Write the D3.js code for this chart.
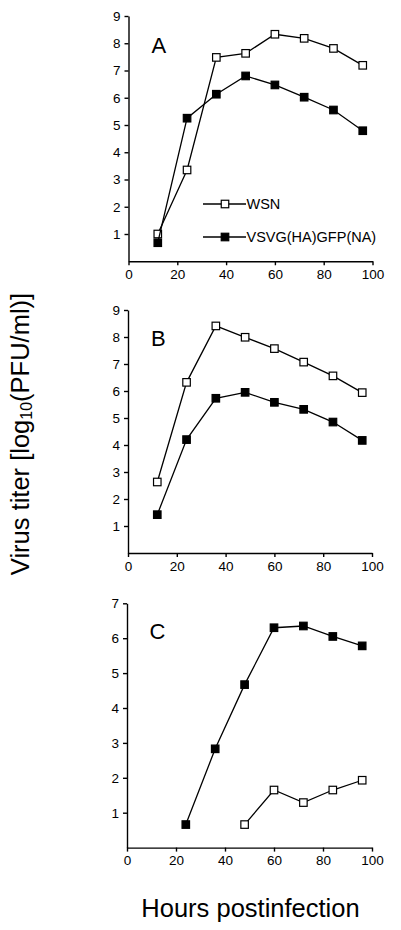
<!DOCTYPE html>
<html>
<head>
<meta charset="utf-8">
<script src="https://cdn.jsdelivr.net/npm/d3@7"></script>
<style>
body { margin: 0; background: #fff; }
svg { display: block; }
text { font-family: "Liberation Sans", Arial, sans-serif; fill: #000; }
</style>
</head>
<body>
<svg id="chart" width="401" height="930"></svg>
<script>
const hours = [12, 24, 36, 48, 60, 72, 84, 96];
const xTicks = [0, 20, 40, 60, 80, 100];

// Panel A
const wsnA  = [1.0, 3.35, 7.48, 7.63, 8.33, 8.18, 7.81, 7.19];
const vsvgA = [0.68, 5.25, 6.13, 6.8, 6.47, 6.02, 5.55, 4.79];
// Panel B
const wsnB  = [2.63, 6.32, 8.41, 7.99, 7.57, 7.07, 6.56, 5.94];
const vsvgB = [1.42, 4.2, 5.73, 5.95, 5.58, 5.32, 4.85, 4.17];
// Panel C (missing values = null)
const wsnC  = [null, null, null, 0.66, 1.65, 1.29, 1.65, 1.93];
const vsvgC = [null, 0.66, 2.83, 4.67, 6.3, 6.35, 6.05, 5.78];

const yTicksAB = [1, 2, 3, 4, 5, 6, 7, 8, 9];
const yTicksC = [1, 2, 3, 4, 5, 6, 7];
const legendLabels = ["WSN", "VSVG(HA)GFP(NA)"];

const svg = d3.select("#chart");

const panels = [
  { label: "A", wsn: wsnA, vsvg: vsvgA, yMax: 9, yTicks: yTicksAB, top: 16, bottom: 261.25, x0: 128.5, x1: 372.5, lx: 151.5, ly: 52.5, legend: true },
  { label: "B", wsn: wsnB, vsvg: vsvgB, yMax: 9, yTicks: yTicksAB, top: 310, bottom: 553, x0: 128, x1: 372, lx: 151, ly: 345.5, legend: false },
  { label: "C", wsn: wsnC, vsvg: vsvgC, yMax: 7, yTicks: yTicksC, top: 603.3, bottom: 847.6, x0: 127, x1: 372, lx: 149.5, ly: 638.5, legend: false }
];

const MS = 7.5; // marker size

function drawSeries(g, x, y, vals, filled) {
  const pts = hours.map((h, i) => ({ h, v: vals[i] })).filter(d => d.v !== null);
  const line = d3.line().x(d => x(d.h)).y(d => y(d.v));
  g.append("path").datum(pts).attr("d", line)
    .attr("fill", "none").attr("stroke", "#000").attr("stroke-width", 1.3);
  g.selectAll(null).data(pts).enter().append("rect")
    .attr("x", d => x(d.h) - MS / 2).attr("y", d => y(d.v) - MS / 2)
    .attr("width", MS).attr("height", MS)
    .attr("fill", filled ? "#000" : "#fff")
    .attr("stroke", "#000").attr("stroke-width", 1.2);
}

panels.forEach(p => {
  const x = d3.scaleLinear().domain([0, 100]).range([p.x0, p.x1]);
  const y = d3.scaleLinear().domain([0, p.yMax]).range([p.bottom, p.top]);
  const g = svg.append("g");

  const xa = g.append("g").attr("transform", `translate(0,${p.bottom})`)
    .call(d3.axisBottom(x).tickValues(xTicks).tickSize(4).tickSizeOuter(0).tickPadding(4).tickFormat(d3.format("d")));
  const ya = g.append("g").attr("transform", `translate(${p.x0},0)`)
    .call(d3.axisLeft(y).tickValues(p.yTicks).tickSize(4).tickSizeOuter(0).tickPadding(4).tickFormat(d3.format("d")));
  [xa, ya].forEach(a => {
    a.selectAll("path, line").attr("stroke", "#000").attr("stroke-width", 1.4);
    a.selectAll("text").attr("font-size", 13.5).attr("font-family", "'Liberation Sans', Arial, sans-serif").attr("fill", "#000");
  });

  drawSeries(g, x, y, p.wsn, false);
  drawSeries(g, x, y, p.vsvg, true);

  g.append("text").attr("x", p.lx).attr("y", p.ly).attr("font-size", 22).text(p.label);

  if (p.legend) {
    const items = [{ t: legendLabels[0], filled: false, yy: 204 }, { t: legendLabels[1], filled: true, yy: 237 }];
    items.forEach(it => {
      g.append("line").attr("x1", 203).attr("x2", 246).attr("y1", it.yy).attr("y2", it.yy)
        .attr("stroke", "#000").attr("stroke-width", 1.3);
      g.append("rect").attr("x", 225 - MS / 2).attr("y", it.yy - MS / 2).attr("width", MS).attr("height", MS)
        .attr("fill", it.filled ? "#000" : "#fff").attr("stroke", "#000").attr("stroke-width", 1.2);
      g.append("text").attr("x", 246.5).attr("y", it.yy + 5).attr("font-size", 14.5).text(it.t);
    });
  }
});

// Axis titles
const yt = svg.append("text")
  .attr("transform", "translate(28.5,434) rotate(-90)")
  .attr("text-anchor", "middle").attr("font-size", 25.5);
yt.append("tspan").text("Virus titer [log");
yt.append("tspan").attr("font-size", 16).attr("dy", 3).text("10");
yt.append("tspan").attr("dy", -3).text("(PFU/ml)]");

svg.append("text").attr("x", 250.5).attr("y", 917).attr("text-anchor", "middle")
  .attr("font-size", 25.5).text("Hours postinfection");
</script>
</body>
</html>
